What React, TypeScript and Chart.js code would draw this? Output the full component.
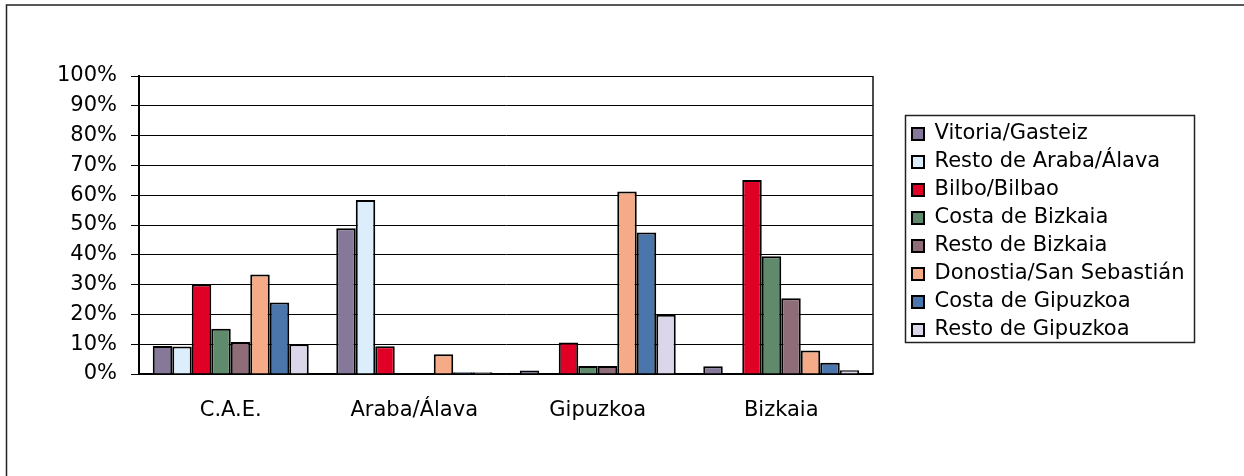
import React, { useEffect, useRef } from "react";
import { Chart, registerables } from "chart.js";

Chart.register(...registerables);

const categories = ["C.A.E.", "Araba/Álava", "Gipuzkoa", "Bizkaia"];
const seriesNames = [
  "Vitoria/Gasteiz",
  "Resto de Araba/Álava",
  "Bilbo/Bilbao",
  "Costa de Bizkaia",
  "Resto de Bizkaia",
  "Donostia/San Sebastián",
  "Costa de Gipuzkoa",
  "Resto de Gipuzkoa",
];
const vitoria = [9.4, 48.9, 1.2, 2.6];
const restoAraba = [9.2, 58.4, 0, 0];
const bilbao = [30, 9.3, 10.6, 65.1];
const costaBizkaia = [15.2, 0, 2.7, 39.5];
const restoBizkaia = [10.7, 0, 2.7, 25.4];
const donostia = [33.4, 6.6, 61.2, 7.9];
const costaGipuzkoa = [24, 0.6, 47.5, 3.8];
const restoGipuzkoa = [10, 0.6, 19.9, 1.3];
const yTicks = [0, 10, 20, 30, 40, 50, 60, 70, 80, 90, 100];

const seriesValues = [
  vitoria,
  restoAraba,
  bilbao,
  costaBizkaia,
  restoBizkaia,
  donostia,
  costaGipuzkoa,
  restoGipuzkoa,
];
const seriesColors = [
  "#867899",
  "#dcedfc",
  "#e00026",
  "#5f8a6b",
  "#8e6d78",
  "#f5ab87",
  "#4b76ab",
  "#dcd6ea",
];

const FONT = "'DejaVu Sans', sans-serif";

const framePlugin = {
  id: "framePlugin",
  afterLayout(chart: any) {
    const l = chart.legend;
    if (l) {
      l.left = 905;
      l.right = 1244;
      l.top = 116.5;
      l.bottom = 476;
    }
  },
  beforeDraw(chart: any) {
    const ctx = chart.ctx;
    ctx.save();
    ctx.strokeStyle = "#222";
    ctx.lineWidth = 1.5;
    ctx.beginPath();
    ctx.moveTo(6.5, 480);
    ctx.lineTo(6.5, 5);
    ctx.lineTo(1250, 5);
    ctx.stroke();
    ctx.restore();
  },
  afterDraw(chart: any) {
    const ctx = chart.ctx;
    const a = chart.chartArea;
    ctx.save();
    ctx.strokeStyle = "#111";
    ctx.lineWidth = 1.5;
    ctx.beginPath();
    ctx.moveTo(a.right, a.top);
    ctx.lineTo(a.right, a.bottom);
    ctx.stroke();
    ctx.lineWidth = 1.5;
    ctx.strokeStyle = "#222";
    ctx.strokeRect(905.5, 115.5, 289, 227);
    ctx.restore();
  },
};

export default function App() {
  const ref = useRef<HTMLCanvasElement | null>(null);
  useEffect(() => {
    if (!ref.current) return;
    Chart.defaults.font.family = FONT;
    Chart.defaults.color = "#000";
    const chart = new Chart(ref.current, {
      type: "bar",
      data: {
        labels: categories,
        datasets: seriesNames.map((name, i) => ({
          label: name,
          data: seriesValues[i],
          backgroundColor: seriesColors[i],
          borderColor: "#000",
          borderWidth: 2,
          categoryPercentage: 0.85,
          barPercentage: 1.0,
        })),
      },
      options: {
        animation: false,
        responsive: true,
        maintainAspectRatio: false,
        layout: { padding: { top: 76, right: 121, bottom: 0, left: 0 } },
        plugins: {
          tooltip: { enabled: false },
          legend: {
            position: "right",
            align: "start",
            maxWidth: 250,
            labels: {
              boxWidth: 12,
              boxHeight: 12,
              padding: 7,
              color: "#000",
              font: { family: FONT, size: 21 },
            },
          },
        },
        scales: {
          x: {
            grid: { display: false },
            border: { display: true, color: "#000", width: 1.5 },
            ticks: { padding: 16, color: "#000", font: { family: FONT, size: 21 } },
            afterFit(scale: any) {
              scale.height = 102;
            },
          },
          y: {
            min: 0,
            max: 100,
            afterBuildTicks(scale: any) {
              scale.ticks = yTicks.map((v) => ({ value: v }));
            },
            grid: { color: "#000", lineWidth: 1, tickLength: 8 },
            border: { display: true, color: "#000", width: 2 },
            ticks: {
              padding: 14,
              color: "#000",
              font: { family: FONT, size: 21 },
              callback: (v: any) => v + "%",
            },
            afterFit(scale: any) {
              scale.width = 139;
            },
          },
        },
      },
      plugins: [framePlugin],
    });
    return () => chart.destroy();
  }, []);
  return (
    <div style={{ position: "fixed", left: 0, top: 0, width: 1244, height: 476, background: "#fff" }}>
      <canvas ref={ref} />
    </div>
  );
}
